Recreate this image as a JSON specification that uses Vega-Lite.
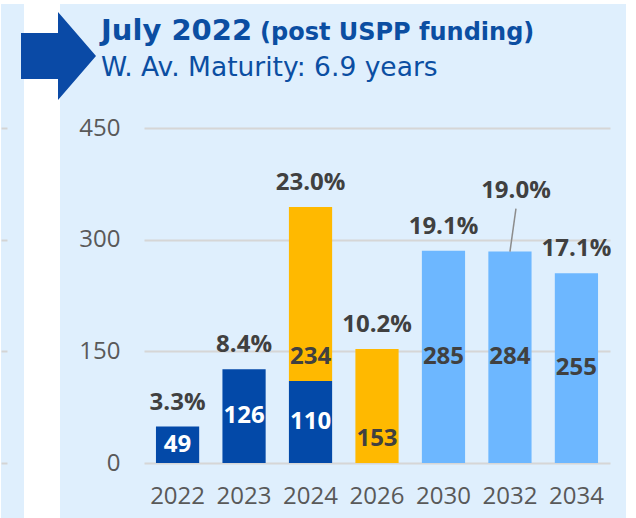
{
  "$schema": "https://vega.github.io/schema/vega-lite/v6.json",
  "background": "white",
  "padding": {"left": 0, "top": 4, "right": 11, "bottom": 0},
  "autosize": {"type": "pad"},
  "bounds": "flush",
  "spacing": 36,
  "title": {"text": "(post USPP funding)", "anchor": "start", "frame": "group", "dx": 259, "offset": -41, "font": "DejaVu Sans", "fontSize": 24, "fontWeight": "bold", "color": "#0b4ea2"},
  "config": {"view": {"stroke": null}},
  "datasets": {
    "bars": [
      {"year": "2022", "series": "S1", "value": 49},
      {"year": "2023", "series": "S1", "value": 126},
      {"year": "2024", "series": "S1", "value": 110},
      {"year": "2024", "series": "S2", "value": 234},
      {"year": "2026", "series": "S2", "value": 153},
      {"year": "2030", "series": "S3", "value": 285},
      {"year": "2032", "series": "S3", "value": 284},
      {"year": "2034", "series": "S3", "value": 255}
    ],
    "totals": [
      {"year": "2022", "total": 49, "share": "3.3%"},
      {"year": "2023", "total": 126, "share": "8.4%"},
      {"year": "2024", "total": 344, "share": "23.0%"},
      {"year": "2026", "total": 153, "share": "10.2%"},
      {"year": "2030", "total": 285, "share": "19.1%"},
      {"year": "2032", "total": 284, "share": "19.0%"},
      {"year": "2034", "total": 255, "share": "17.1%"}
    ],
    "ticks": [{"v": 0}, {"v": 150}, {"v": 300}, {"v": 450}],
    "arrow": [{"k": 1}]
  },
  "hconcat": [
    {
      "width": 23,
      "height": 514,
      "view": {"fill": "#dfeffd", "stroke": null},
      "data": {"name": "ticks"},
      "mark": {"type": "point", "opacity": 0},
      "encoding": {
        "y": {"field": "v", "type": "quantitative", "scale": {"domain": [0, 450], "range": [459, 124]},
          "axis": {"orient": "right", "offset": -23, "values": [0, 150, 300, 450], "domain": false, "labels": false, "ticks": true, "tickSize": 6, "tickColor": "#d4d4d4", "tickWidth": 2, "grid": false, "title": null}}
      }
    },
    {
      "width": 566,
      "height": 514,
      "view": {"fill": "#dfeffd", "stroke": null},
      "title": {"text": "July 2022", "subtitle": "W. Av. Maturity: 6.9 years", "anchor": "start", "frame": "group", "dx": 41, "offset": -77, "font": "DejaVu Sans", "fontSize": 29, "fontWeight": "bold", "color": "#0b4ea2", "subtitleFont": "DejaVu Sans", "subtitleFontSize": 26.5, "subtitleFontWeight": "normal", "subtitleColor": "#0b4ea2", "subtitlePadding": 9},
      "layer": [
        {
          "data": {"name": "bars"},
          "mark": {"type": "bar"},
          "encoding": {
            "x": {"field": "year", "type": "nominal", "scale": {"range": [84, 550], "paddingInner": 0.35, "paddingOuter": 0.18},
              "axis": {"orient": "bottom", "offset": -55, "domain": false, "ticks": false, "tickSize": 0, "grid": false, "labelAngle": 0, "labelPadding": 21, "labelFont": "Open Sans", "labelFontSize": 24, "labelColor": "#595959", "title": null}},
            "y": {"field": "value", "type": "quantitative", "stack": "zero", "scale": {"domain": [0, 450], "range": [459, 124]},
              "axis": {"orient": "left", "offset": -84, "domain": false, "ticks": false, "tickSize": 0, "labelPadding": 24, "grid": true, "gridColor": "#d6d6d6", "gridWidth": 2, "values": [0, 150, 300, 450], "labelFont": "Open Sans", "labelFontSize": 24, "labelColor": "#595959", "title": null}},
            "color": {"field": "series", "type": "nominal", "scale": {"domain": ["S1", "S2", "S3"], "range": ["#0349a8", "#ffb900", "#6db7ff"]}, "legend": null},
            "order": {"field": "series"}
          }
        },
        {
          "data": {"name": "bars"},
          "transform": [
            {"stack": "value", "groupby": ["year"], "sort": [{"field": "series"}], "as": ["v0", "v1"]},
            {"calculate": "(datum.v0 + datum.v1) / 2", "as": "mid"},
            {"filter": "datum.series !== 'S2'"}
          ],
          "mark": {"type": "text", "font": "Open Sans", "fontSize": 24, "fontWeight": "bold", "baseline": "middle"},
          "encoding": {
            "x": {"field": "year", "type": "nominal"},
            "y": {"field": "mid", "type": "quantitative", "axis": {"title": null}},
            "text": {"field": "value"},
            "color": {"condition": {"test": "datum.series === 'S1'", "value": "#ffffff"}, "value": "#404040"}
          }
        },
        {
          "data": {"name": "bars"},
          "transform": [
            {"stack": "value", "groupby": ["year"], "sort": [{"field": "series"}], "as": ["v0", "v1"]},
            {"filter": "datum.series === 'S2'"}
          ],
          "mark": {"type": "text", "font": "Open Sans", "fontSize": 24, "fontWeight": "bold", "baseline": "middle", "dy": -24, "color": "#404040"},
          "encoding": {
            "x": {"field": "year", "type": "nominal"},
            "y": {"field": "v0", "type": "quantitative", "axis": {"title": null}},
            "text": {"field": "value"}
          }
        },
        {
          "data": {"name": "totals"},
          "transform": [{"filter": "datum.year !== '2032'"}],
          "mark": {"type": "text", "font": "Open Sans", "fontSize": 24, "fontWeight": "bold", "baseline": "alphabetic", "dy": -17, "color": "#404040"},
          "encoding": {
            "x": {"field": "year", "type": "nominal"},
            "y": {"field": "total", "type": "quantitative", "axis": {"title": null}},
            "text": {"field": "share"}
          }
        },
        {
          "data": {"name": "totals"},
          "transform": [{"filter": "datum.year === '2032'"}],
          "mark": {"type": "text", "font": "Open Sans", "fontSize": 24, "fontWeight": "bold", "baseline": "alphabetic", "dy": -54, "dx": 6, "color": "#404040"},
          "encoding": {
            "x": {"field": "year", "type": "nominal"},
            "y": {"field": "total", "type": "quantitative", "axis": {"title": null}},
            "text": {"field": "share"}
          }
        },
        {
          "data": {"name": "totals"},
          "transform": [{"filter": "datum.year === '2032'"}],
          "mark": {"type": "rule", "color": "#8c8c8c", "strokeWidth": 1.5, "x2Offset": 6, "y2Offset": -43},
          "encoding": {
            "x": {"field": "year", "type": "nominal", "bandPosition": 0.5},
            "x2": {"field": "year"},
            "y": {"field": "total", "type": "quantitative", "axis": {"title": null}},
            "y2": {"field": "total"}
          }
        },
        {
          "data": {"name": "arrow"},
          "mark": {"type": "point", "filled": true, "opacity": 1, "size": 4, "strokeWidth": 0, "color": "#0a4aa6",
            "shape": "M-322,-228L-285,-228L-285,-249L-247,-205L-285,-161L-285,-182L-322,-182Z"},
          "encoding": {}
        }
      ]
    }
  ]
}
